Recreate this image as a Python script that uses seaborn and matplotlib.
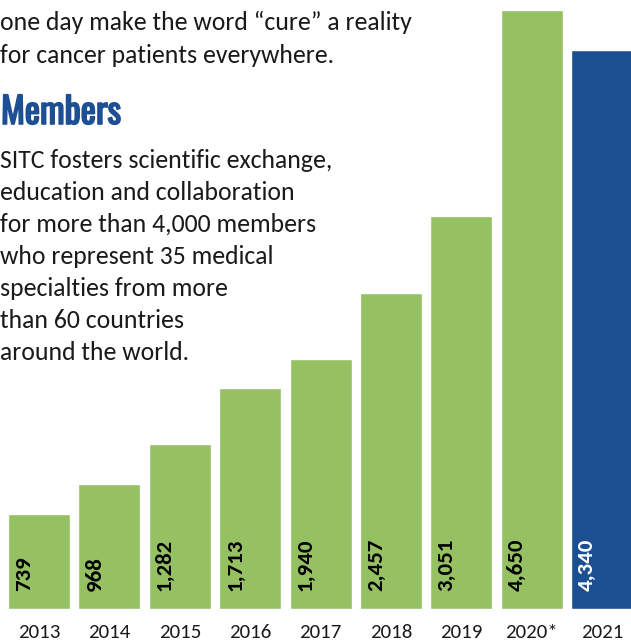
import matplotlib
matplotlib.use("Agg")
import matplotlib.pyplot as plt
import matplotlib.patheffects as pe
import seaborn as sns
import pandas as pd

years = ["2013", "2014", "2015", "2016", "2017", "2018", "2019", "2020*", "2021"]
members = [739, 968, 1282, 1713, 1940, 2457, 3051, 4650, 4340]
value_labels = ["739", "968", "1,282", "1,713", "1,940", "2,457", "3,051", "4,650", "4,340"]
bar_colors = ["#95C162"] * 8 + ["#1B4F91"]
label_colors = ["black"] * 8 + ["white"]

intro_lines = ["one day make the word \u201ccure\u201d a reality",
               "for cancer patients everywhere."]
heading = "Members"
body_lines = ["SITC fosters scientific exchange,",
              "education and collaboration",
              "for more than 4,000 members",
              "who represent 35 medical",
              "specialties from more",
              "than 60 countries",
              "around the world."]

sns.set_theme(style="white")
plt.rcParams["font.family"] = ["Carlito", "DejaVu Sans"]

W, H = 631, 644
fig = plt.figure(figsize=(W / 100, H / 100), dpi=100)
ax = fig.add_axes([0, 35 / H, 1, 609 / H])

df = pd.DataFrame({"year": years, "members": members})
sns.barplot(data=df, x="year", y="members", hue="year", palette=bar_colors,
            legend=False, width=0.88, saturation=1, ax=ax)
ax.set_xlim(-0.554, 8.41)
ax.set_ylim(0, 4728)
for s in ax.spines.values():
    s.set_visible(False)
ax.set_yticks([])
ax.set_xlabel("")
ax.set_ylabel("")
ax.tick_params(axis="x", length=0, pad=10.5, labelsize=15, labelcolor="#1a1a1a")

for i, (lab, c) in enumerate(zip(value_labels, label_colors)):
    ax.annotate(lab, xy=(i, 0), xytext=(-15, 18), textcoords="offset pixels",
                rotation=90, ha="center", va="bottom", fontsize=16.5,
                fontweight="bold", color=c)

def fy(py):
    return 1 - py / H

for k, t in enumerate(intro_lines):
    fig.text(0.5 / W, fy(30 + 33 * k), t, fontsize=18.5, color="#1a1a1a",
             ha="left", va="baseline")

fig.text(1 / W, fy(124), heading, fontsize=26, fontweight="bold",
         color="#1C4F93", family=["Oswald", "DejaVu Sans"],
         ha="left", va="baseline",
         path_effects=[pe.withStroke(linewidth=1.2, foreground="#1C4F93")])

for k, t in enumerate(body_lines):
    fig.text(0.5 / W, fy(168 + 32 * k), t, fontsize=18.5, color="#1a1a1a",
             ha="left", va="baseline")

fig.savefig("out.png", dpi=100)
